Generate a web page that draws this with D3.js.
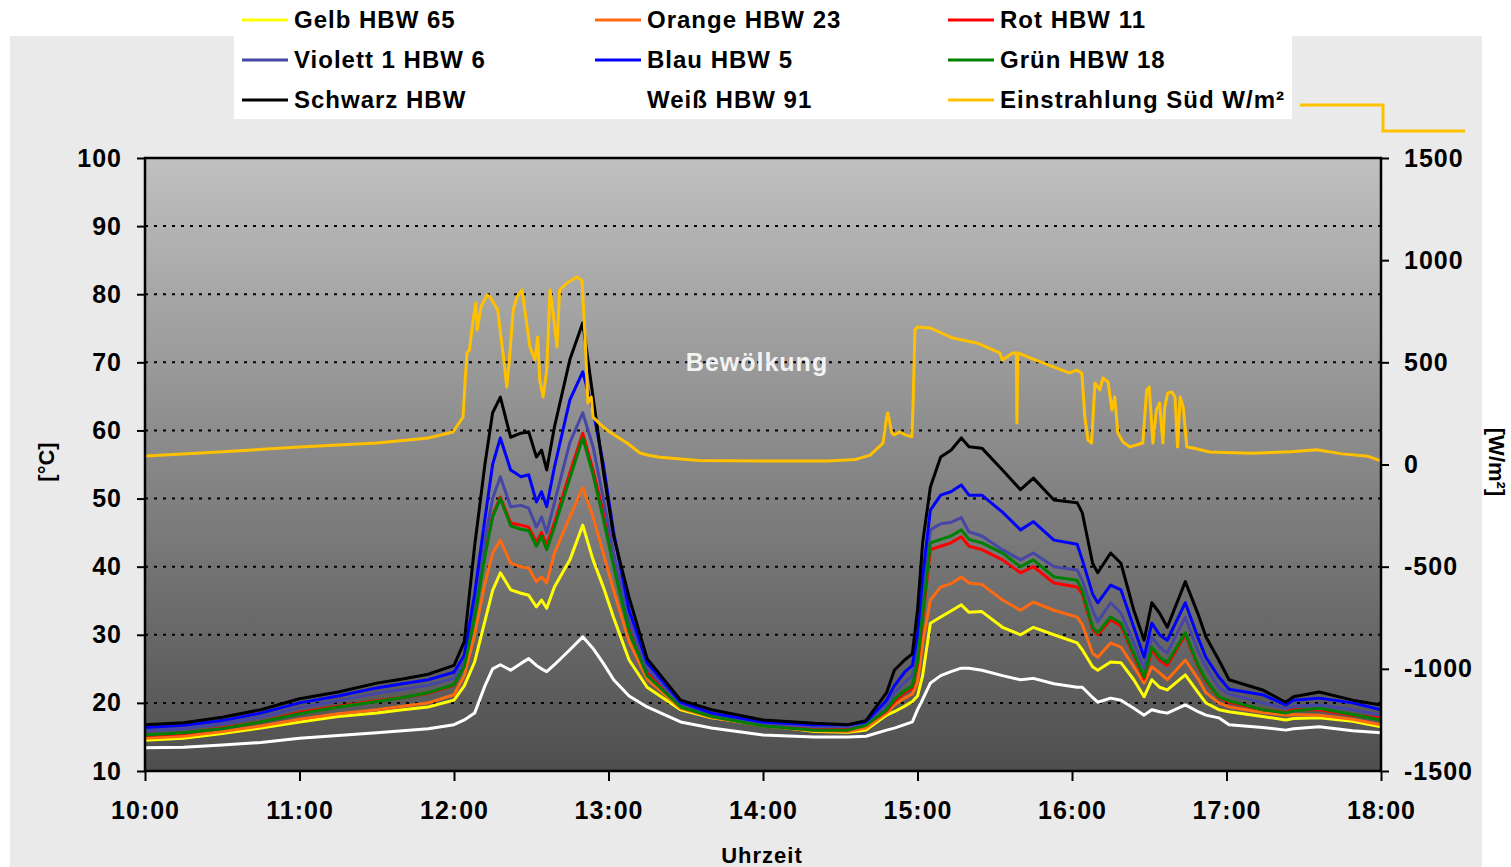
<!DOCTYPE html>
<html>
<head>
<meta charset="utf-8">
<script src="https://cdn.jsdelivr.net/npm/d3@7"></script>
<style>
  body { margin: 0; background: #fff; }
  svg text { font-family: "Liberation Sans", Arial, sans-serif; font-weight: bold; fill: #000; }
</style>
</head>
<body>
<svg width="1511" height="867"></svg>
<script>
// ---------------------------------------------------------------------
// Data. Time is in minutes after 10:00.
// ---------------------------------------------------------------------
const minutes = [0,15,30,45,60,75,90,100,110,120, 124,128,132,135,138, 142,146,149,152,154,156,159,
  165,170,174,178,182,188,195, 208,220,240,260,273,280, 288,291,295,298,300,302,305,
  309,313,317,320,325,333,340,345,353, 362,364,368,370,375,379, 384,388,391,394,397,404,
  409,412,417,421,434,443,446,456,469,480];

const gelb = [14.5,14.8,15.5,16.3,17.2,18,18.5,19,19.4,20.4, 22.5,26,32,36.5,39.1, 36.6,36.1,35.8,34.1,35.1,33.9,37,
  41,46.1,41,37,32.5,26.3,22.3, 19,17.8,16.8,15.8,15.7,16, 18.2,18.7,19.5,20.2,21,24,31.7,
  32.6,33.5,34.4,33.3,33.4,31.1,30,31.1,30, 28.8,27.8,25.3,24.8,26,25.9, 23.4,20.9,23.4,22.3,21.9,24.1,
  21.5,20,19,18.7,18,17.5,17.7,17.8,17.3,16.5];
const orange = [14.8,15.1,15.8,16.6,17.6,18.4,19,19.5,20,21.2, 24,30,37.5,42,43.9, 40.5,40,39.8,37.8,38.5,37.6,42,
  47.3,51.6,47.3,42,36.5,29,23.5, 19.2,17.9,16.6,15.9,15.8,16.3, 18.5,19.7,20.7,21.3,23,28.8,35.1,
  37,37.5,38.5,37.6,37.4,35.1,33.6,34.8,33.6, 32.6,31.5,27.3,26.7,28.8,28.2, 25.3,22.9,25.3,24.4,23.4,26.3,
  23.5,21.5,20,19.4,18.6,18.2,18.3,18.2,17.6,16.8];
const rot = [15.2,15.5,16.3,17.2,18.6,19.5,20.3,20.8,21.4,22.6, 25.5,33,42,47.5,50.2, 46.4,46.1,45.8,43.6,45,43.2,46.4,
  53.8,59.6,54.2,48,40.5,31,24.5, 19.5,18.2,16.8,16.3,16.2,16.8, 18.8,20.2,21.5,22.2,25.5,32.5,42.5,
  43,43.5,44.4,43,42.5,41,39.1,40,37.6, 37,36,30.8,30,32.2,31.3, 27,23.5,27.8,26.3,25.5,30,
  25.3,23.2,20.8,20.1,19,18.6,19,19,18.2,17.8];
const violett = [15.9,16.2,16.9,17.9,19.3,20.3,21.4,22,22.6,23.6, 26,34,44,50,53.2, 48.8,49,48.6,45.8,47.3,45,49.4,
  58.2,62.6,57.6,50,42,32,25, 19.8,18.3,17,16.5,16.5,17, 19.7,21.5,23,24,27.5,35,45.4,
  46.3,46.5,47.2,45.1,44.5,42.5,41,42,40, 39.5,38,33.6,31.9,34.7,33.2, 28.8,25.1,29.7,28.2,27.3,32.6,
  27.5,25.3,22.3,21.3,20,19.2,19.5,19.7,19,18.2];
const blau = [16.4,16.7,17.4,18.5,20,21,22.2,22.8,23.4,24.5, 27,36,47,55,58.9, 54.2,53.2,53.5,49.5,51,48.8,54.6,
  64.5,68.6,63,55,45,33.6,25.9, 20.1,18.5,17.2,16.8,16.8,17.2, 20.4,22.5,24.5,25.5,30,38.5,48.3,
  50.5,51,52,50.5,50.5,48,45.4,46.6,43.9, 43.3,41,36,34.7,37.3,36.6, 31.1,26.7,31.7,30,29.2,34.7,
  29.5,26.7,23.8,22,21.2,19.7,20.4,20.7,20,19];
const gruen = [15.3,15.6,16.2,17.2,18.4,19.4,20.2,20.8,21.5,22.7, 25.3,32.5,41.5,47.3,50, 46,45.5,45.3,43,44.5,42.5,45.8,
  53,58.9,53.5,47,40,30.5,24, 19.4,18,16.6,16,16,16.7, 19,20.5,21.8,22.5,26,33,43.5,
  44,44.5,45.4,44,43.5,42,40,41,38.5, 38,36.5,31.1,30.3,32.6,31.7, 27.3,23.8,28.2,26.7,25.9,30.3,
  25.5,23.4,20.9,20.3,19,18.5,18.8,19.2,18.3,17.5];
const schwarz = [16.8,17.1,17.9,19,20.6,21.6,22.9,23.5,24.2,25.5, 29,43,55,62.6,64.9, 59,59.6,59.8,56.1,57.1,54.2,60.5,
  70.4,75.8,64.9,54,44.5,35.5,26.5, 20.4,19,17.5,17,16.8,17.4, 21.5,24.8,26.3,27.2,33.6,43.5,51.7,
  56.1,57.1,58.9,57.6,57.4,54.2,51.3,53,49.8, 49.4,47.9,40.5,39.1,42,40.5, 33.6,29.2,34.7,33.2,31.1,37.8,
  33,29.7,26.3,23.4,21.9,20.1,20.9,21.6,20.4,19.7];
const weiss = [13.4,13.5,13.8,14.2,14.8,15.2,15.6,15.9,16.2,16.8, 17.5,18.5,22.5,25,25.6, 24.8,25.8,26.5,25.5,25,24.6,25.6,
  27.8,29.7,28,25.8,23.4,21,19.4, 17.2,16.3,15.3,15,15,15.1, 16,16.3,16.8,17.2,19,20.5,22.9,
  24,24.6,25.1,25.1,24.8,24,23.4,23.6,22.8, 22.3,22.3,20.8,20.1,20.7,20.4, 19.2,18.2,19,18.7,18.5,19.7,
  18.7,18.2,17.8,16.8,16.4,16,16.2,16.5,15.9,15.6];

// Einstrahlung Süd: [minutes after 10:00, W/m²]
const einstrahlung = [[0,42],[20,55],[40,70],[60,86],[90,105],[110,130],[119.6,159],[123.5,232],[125,545],[126,560],
  [127.4,707],[128.5,790],[129,658],[130.5,771],[132.8,830],[134,820],[137,756],[139.8,462],[140.5,379],[141.5,511],
  [143,756],[144.5,820],[146.4,854],[147.5,756],[149.5,575],[151.4,511],[152.5,624],[153.3,413],[154.6,330],[156,462],
  [157.3,854],[158.5,741],[160,575],[161,854],[163.9,888],[167.7,918],[169.7,900],[170.9,624],[172,301],[173.3,330],
  [174,232],[176.5,200],[179.4,169],[183,138],[187.2,105],[192.2,56],[196,44],[200,35],[215,20],[240,17],[265,17],
  [276,25],[281.6,46],[286.6,105],
  [288,232],[288.5,252],[290,154],[291,144],[293,159],[295.5,144],[297.8,135],[298.3,301],[299,658],[299.8,673],
  [305,668],[313.7,619],[323,595],[332,546],[333,511],[337,546],[338.4,546],[338.6,203],[339,546],[343,526],
  [354,472],[359,448],[361.8,462],[363.8,448],[365,232],[366.2,120],[367.6,105],[368.9,399],[370.8,365],[372,423],
  [374,404],[375.5,267],[376.6,330],[377.8,154],[379.8,110],[382.5,86],[387.5,105],[389,365],[390,379],[391.4,105],
  [392.8,267],[394,301],[395.3,105],[396,281],[397.2,350],[398.8,355],[400,330],[401,86],[402,330],[403.2,281],
  [404.6,86],[407,81],[413.5,61],[430,55],[445,62],[455,72],[465,52],[475,40],[480,18]];

const hourTicks  = [0,60,120,180,240,300,360,420,480];
const hourLabels = ["10:00","11:00","12:00","13:00","14:00","15:00","16:00","17:00","18:00"];
const tempTicks  = [10,20,30,40,50,60,70,80,90,100];
const radTicks   = [-1500,-1000,-500,0,500,1000,1500];

const seriesNames  = ["Gelb HBW 65","Orange HBW 23","Rot HBW 11","Violett 1 HBW 6","Blau HBW 5","Grün HBW 18","Schwarz HBW","Weiß HBW 91"];
const seriesValues = [gelb, orange, rot, violett, blau, gruen, schwarz, weiss];
const seriesColors = ["#ffff00","#ff6a10","#ff0000","#4646a6","#0000ff","#008000","#000000","#ffffff"];
const radName  = "Einstrahlung Süd W/m²";
const radColor = "#ffc000";

// ---------------------------------------------------------------------
// Layout
// ---------------------------------------------------------------------
const svg = d3.select("svg"),
      plotL = 145, plotR = 1381, plotT = 158, plotB = 771;

const x  = d3.scaleLinear().domain([0, 480]).range([plotL, plotR]),
      yT = d3.scaleLinear().domain([10, 100]).range([plotB, plotT]),
      yR = d3.scaleLinear().domain([-1500, 1500]).range([plotB, plotT]);

// backgrounds
svg.append("rect").attr("x", 10).attr("y", 36).attr("width", 1472).attr("height", 831).attr("fill", "#eaeaea");

let grad = svg.append("defs").append("linearGradient")
  .attr("id", "plotbg").attr("x1", 0).attr("y1", 0).attr("x2", 0).attr("y2", 1);
grad.append("stop").attr("offset", "0%").attr("stop-color", "#c0c0c0");
grad.append("stop").attr("offset", "100%").attr("stop-color", "#4e4e4e");

svg.append("rect").attr("x", plotL).attr("y", plotT)
  .attr("width", plotR - plotL).attr("height", plotB - plotT)
  .attr("fill", "url(#plotbg)");

// dotted gridlines
svg.append("g").selectAll("line")
  .data(tempTicks.filter(d => d > 10 && d < 100))
  .enter().append("line")
    .attr("x1", plotL).attr("x2", plotR)
    .attr("y1", d => yT(d)).attr("y2", d => yT(d))
    .attr("stroke", "#000").attr("stroke-width", 2)
    .attr("stroke-dasharray", "3,6");

// "Bewölkung" annotation
svg.append("text").attr("x", 757).attr("y", 371)
  .attr("text-anchor", "middle").style("font-size", "25px")
  .style("letter-spacing", "1px").style("fill", "#f2f2f2")
  .text("Bewölkung");

// temperature lines
let tempLine = d3.line().x((d, i) => x(minutes[i])).y(d => yT(d));
svg.append("g").selectAll("path")
  .data(seriesValues)
  .enter().append("path")
    .attr("d", tempLine)
    .attr("fill", "none")
    .attr("stroke", (d, i) => seriesColors[i])
    .attr("stroke-width", 3)
    .attr("stroke-linejoin", "round");

// irradiance line on the right axis
svg.append("path")
  .datum(einstrahlung)
  .attr("d", d3.line().x(d => x(d[0])).y(d => yR(d[1])))
  .attr("fill", "none").attr("stroke", radColor)
  .attr("stroke-width", 3).attr("stroke-linejoin", "round");

// frame
svg.append("rect").attr("x", plotL).attr("y", plotT)
  .attr("width", plotR - plotL).attr("height", plotB - plotT)
  .attr("fill", "none").attr("stroke", "#000").attr("stroke-width", 2.5);

// axes
function styleAxis(g) {
  g.select(".domain").remove();
  g.selectAll(".tick line").attr("stroke", "#000").attr("stroke-width", 2);
  g.selectAll(".tick text").style("font-size", "25px").style("letter-spacing", "1px");
}

svg.append("g").attr("transform", `translate(${plotL},0)`)
  .call(d3.axisLeft(yT).tickValues(tempTicks).tickSize(8).tickPadding(15))
  .call(styleAxis);

svg.append("g").attr("transform", `translate(${plotR},0)`)
  .call(d3.axisRight(yR).tickValues(radTicks).tickSize(8).tickPadding(15)
          .tickFormat(d => String(d)))
  .call(styleAxis);

svg.append("g").attr("transform", `translate(0,${plotB})`)
  .call(d3.axisBottom(x).tickValues(hourTicks).tickSize(10).tickPadding(20)
          .tickFormat((d, i) => hourLabels[i]))
  .call(styleAxis);

// axis titles
svg.append("text").attr("x", 762).attr("y", 863).attr("text-anchor", "middle")
  .style("font-size", "22px").style("letter-spacing", "1px").text("Uhrzeit");
svg.append("text").attr("transform", "translate(54,462) rotate(-90)").attr("text-anchor", "middle")
  .style("font-size", "22px").text("[°C]");
svg.append("text").attr("transform", "translate(1489,462) rotate(90)").attr("text-anchor", "middle")
  .style("font-size", "22px").text("[W/m²]");

// ---------------------------------------------------------------------
// Legend
// ---------------------------------------------------------------------
let legend = svg.append("g");
legend.append("rect").attr("x", 234).attr("y", 0).attr("width", 1058).attr("height", 119).attr("fill", "#fff");

let legendItems = seriesNames.map((n, i) => ({name: n, color: seriesColors[i]}))
  .concat([{name: radName, color: radColor}]);
let colX = [242, 595, 948], rowY = [20, 60, 100];

let item = legend.selectAll(".item")
  .data(legendItems)
  .enter().append("g")
    .attr("transform", (d, i) => `translate(${colX[i % 3]},${rowY[Math.floor(i / 3)]})`);
item.append("line").attr("x1", 0).attr("x2", 46).attr("y1", 0).attr("y2", 0)
  .attr("stroke", d => d.color).attr("stroke-width", 3);
item.append("text").attr("x", 52).attr("y", 8)
  .style("font-size", "24px").style("letter-spacing", "1px")
  .text(d => d.name);

// stray legend sample that spills out on the right of the legend box
legend.append("path")
  .attr("d", "M1300,105H1383V131H1465")
  .attr("fill", "none").attr("stroke", radColor).attr("stroke-width", 3);
</script>
</body>
</html>
